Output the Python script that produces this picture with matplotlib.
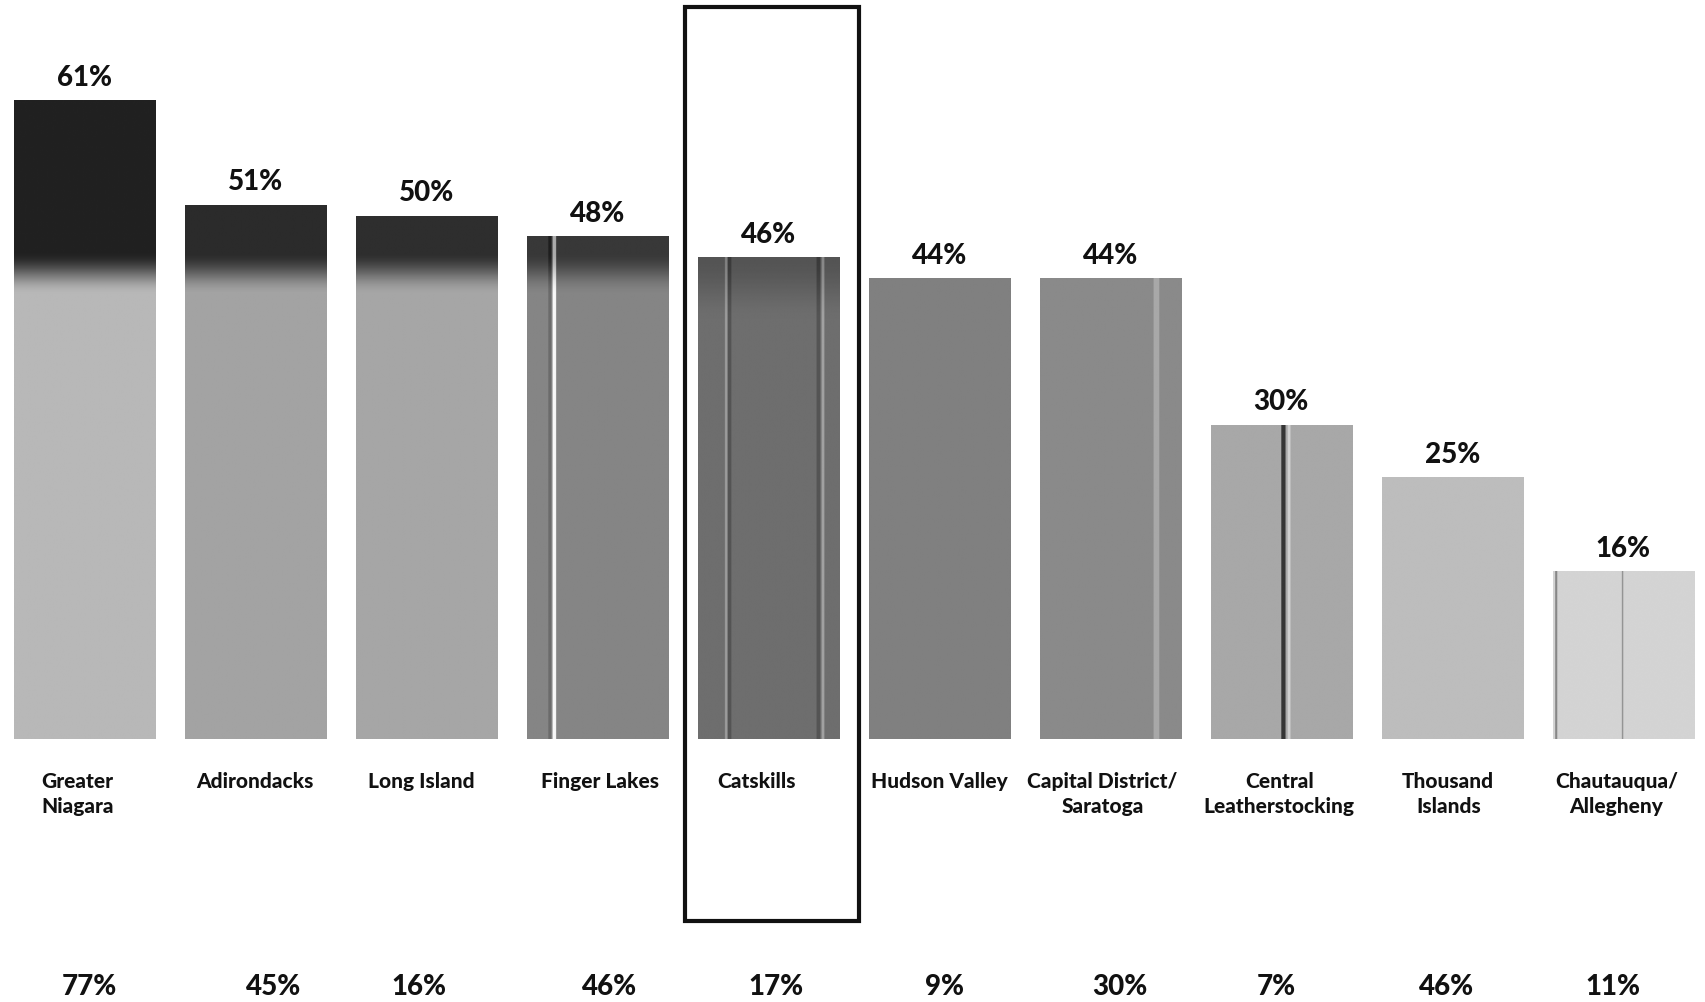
import numpy as np
import matplotlib
matplotlib.use("Agg")
import matplotlib.pyplot as plt
from matplotlib.patches import Rectangle

# ---------------- data ----------------
regions = ["Greater\nNiagara", "Adirondacks", "Long Island", "Finger Lakes", "Catskills",
           "Hudson Valley", "Capital District/\nSaratoga", "Central\nLeatherstocking",
           "Thousand\nIslands", "Chautauqua/\nAllegheny"]
top_values = [61, 51, 50, 48, 46, 44, 44, 30, 25, 16]
bottom_values = [77, 45, 16, 46, 17, 9, 30, 7, 46, 11]
highlight = "Catskills"

# ---------------- style ----------------
top_grey = [0.13, 0.17, 0.18, 0.22, 0.33, 0.50, 0.54, 0.66, 0.74, 0.83]
body_grey = [0.72, 0.64, 0.65, 0.52, 0.43, 0.50, 0.54, 0.66, 0.74, 0.83]
# decorative scan stripes: (bar index, relative x, relative width, grey delta)
stripes = [(3, 0.19, 0.025, 0.45), (3, 0.16, 0.02, -0.1),
           (4, 0.20, 0.02, 0.18), (4, 0.22, 0.03, -0.1), (4, 0.88, 0.02, 0.2), (4, 0.85, 0.025, -0.1),
           (6, 0.82, 0.04, 0.12),
           (7, 0.51, 0.03, -0.45), (7, 0.55, 0.02, 0.15),
           (9, 0.02, 0.015, -0.3), (9, 0.49, 0.012, -0.25)]
cat_dx_px = [-7, 0, -5, 3, -12, 0, -8, -2, -4, -7]
bottom_dx_px = [5, 18, -7, 12, 8, 5, 10, -5, -6, -10]

plt.rcParams['font.family'] = ['Lato', 'DejaVu Sans']

W, H, DPI = 1705, 1003, 100
fig = plt.figure(figsize=(W / DPI, H / DPI), dpi=DPI)
ax = fig.add_axes([0, 0, 1, 1])
ax.set_axis_off()

px_per_unit_x = 171.0
x0_px = 84.3
ax.set_xlim(-x0_px / px_per_unit_x, (W - x0_px) / px_per_unit_x)
px_per_pct = 10.47
base_px_from_bottom = H - 740
ax.set_ylim(-base_px_from_bottom / px_per_pct, (H - base_px_from_bottom) / px_per_pct)

x = np.arange(len(regions))
bw = 0.827
bars = ax.bar(x, top_values, width=bw, color="none", edgecolor="none")

for i, (b, v) in enumerate(zip(bars, top_values)):
    nrows, ncols = 400, 200
    vals = np.linspace(v, 0, nrows)  # row 0 = top
    if i <= 3:
        s = np.clip((vals - 42.5) / 4.0, 0, 1)
    elif i == 4:
        s = np.clip((vals - 40.0) / 6.0, 0, 1)
    else:
        s = np.zeros_like(vals)
    s = s * s * (3 - 2 * s)
    col = body_grey[i] + (top_grey[i] - body_grey[i]) * s
    img = np.repeat(col[:, None], ncols, axis=1)
    rel = np.linspace(0, 1, ncols)
    for (bi, rx, rw, dg) in stripes:
        if bi == i:
            mask = np.abs(rel - rx) < rw / 2
            img[:, mask] = np.clip(img[:, mask] + dg, 0, 1)
    im = ax.imshow(img, cmap="gray", vmin=0, vmax=1, aspect="auto",
                   extent=[b.get_x(), b.get_x() + b.get_width(), 0, v],
                   interpolation="bilinear", zorder=2)
    im.set_clip_path(b)

txt_kw = dict(fontweight="black", color="#111111")

# value labels above bars
for xi, v in zip(x, top_values):
    ax.annotate(f"{v}%", (xi, v), xytext=(0, 17), textcoords="offset points",
                ha="center", va="center", fontsize=20, **txt_kw)

# category labels
for xi, lab, dx in zip(x, regions, cat_dx_px):
    ax.annotate(lab, (xi, -(772 - 740) / px_per_pct), xytext=(dx * 0.72, 0),
                textcoords="offset points", ha="center", va="top",
                fontsize=15, linespacing=1.35, **txt_kw)

# bottom row values
for xi, v, dx in zip(x, bottom_values, bottom_dx_px):
    ax.annotate(f"{v}%", (xi, -(1000 - 740) / px_per_pct), xytext=(dx * 0.72, 0),
                textcoords="offset points", ha="center", va="bottom",
                fontsize=20, **txt_kw)

# highlight box
hi = regions.index(highlight)
ax.add_patch(Rectangle((hi - 0.487, -17.4), 1.017, 87.3, fill=False,
                       edgecolor="#111111", linewidth=3.0, zorder=5))

fig.savefig("out.png", dpi=DPI)
